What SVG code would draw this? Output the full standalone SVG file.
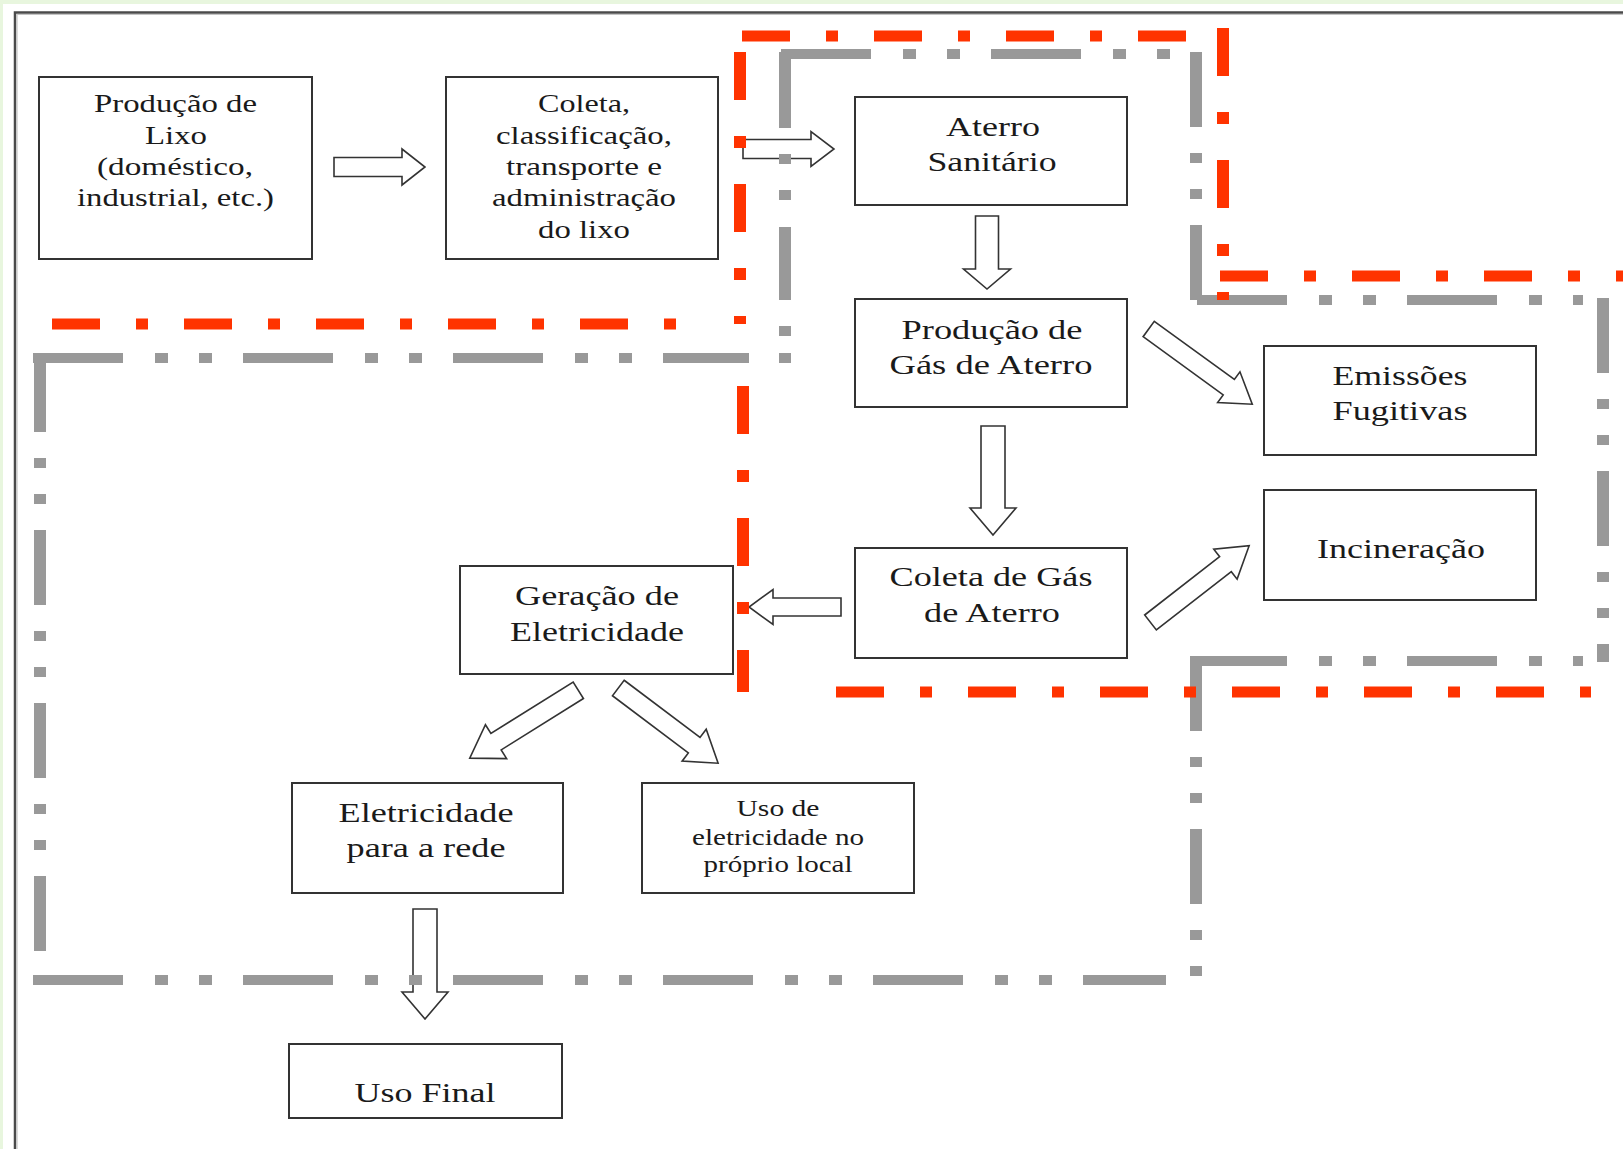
<svg xmlns="http://www.w3.org/2000/svg" width="1623" height="1149" viewBox="0 0 1623 1149">
<style>
.box{fill:#fff;stroke:#333;stroke-width:2}
.t{font-family:"Liberation Serif","Times New Roman",serif;fill:#1a1a1a;text-anchor:middle}
.t25{font-size:25px}
.t28{font-size:28px}
.t23{font-size:23px}
.arr{fill:#fff;stroke:#333;stroke-width:1.6;stroke-linejoin:miter}
.gh{fill:none;stroke:#999;stroke-width:10;stroke-dasharray:90 32 13 31 13 31}
.gv{fill:none;stroke:#999;stroke-width:12;stroke-dasharray:75 26 10 26 10 26}
.rh{fill:none;stroke:#ff3300;stroke-width:11;stroke-dasharray:48 36 12 36}
.rv{fill:none;stroke:#ff3300;stroke-width:12;stroke-dasharray:48 36 12 36}
</style>
<rect x="0" y="0" width="1623" height="1149" fill="#fff"/>
<rect x="0" y="0" width="1623" height="4" fill="#e8f6de"/>
<rect x="0" y="0" width="3" height="1149" fill="#e8f6de"/>
<path d="M15,1149 V12.5 H1623" fill="none" stroke="#4a4a4a" stroke-width="2.5"/>
<path d="M17,1149 V14.5 H1623" fill="none" stroke="#c4c4c4" stroke-width="1.2"/>

<g id="node-producao-lixo">
<rect class="box" x="39" y="77" width="273" height="182"/>
<text class="t t25" x="175.5" y="112" textLength="163" lengthAdjust="spacingAndGlyphs">Produção de</text>
<text class="t t25" x="176" y="144" textLength="62" lengthAdjust="spacingAndGlyphs">Lixo</text>
<text class="t t25" x="175" y="175" textLength="156" lengthAdjust="spacingAndGlyphs">(doméstico,</text>
<text class="t t25" x="175.5" y="206" textLength="197" lengthAdjust="spacingAndGlyphs">industrial, etc.)</text>
</g>
<g id="node-coleta-lixo">
<rect class="box" x="446" y="77" width="272" height="182"/>
<text class="t t25" x="584" y="112" textLength="92" lengthAdjust="spacingAndGlyphs">Coleta,</text>
<text class="t t25" x="584" y="144" textLength="176" lengthAdjust="spacingAndGlyphs">classificação,</text>
<text class="t t25" x="584" y="175" textLength="156" lengthAdjust="spacingAndGlyphs">transporte e</text>
<text class="t t25" x="584" y="206" textLength="184" lengthAdjust="spacingAndGlyphs">administração</text>
<text class="t t25" x="584" y="238" textLength="92" lengthAdjust="spacingAndGlyphs">do lixo</text>
</g>
<g id="node-aterro">
<rect class="box" x="855" y="97" width="272" height="108"/>
<text class="t t28" x="993" y="136" textLength="94" lengthAdjust="spacingAndGlyphs">Aterro</text>
<text class="t t28" x="992" y="171" textLength="129" lengthAdjust="spacingAndGlyphs">Sanitário</text>
</g>
<g id="node-producao-gas">
<rect class="box" x="855" y="299" width="272" height="108"/>
<text class="t t28" x="992" y="339" textLength="181" lengthAdjust="spacingAndGlyphs">Produção de</text>
<text class="t t28" x="991" y="374" textLength="203" lengthAdjust="spacingAndGlyphs">Gás de Aterro</text>
</g>
<g id="node-emissoes">
<rect class="box" x="1264" y="346" width="272" height="109"/>
<text class="t t28" x="1400" y="385" textLength="135" lengthAdjust="spacingAndGlyphs">Emissões</text>
<text class="t t28" x="1400" y="420" textLength="135" lengthAdjust="spacingAndGlyphs">Fugitivas</text>
</g>
<g id="node-incineracao">
<rect class="box" x="1264" y="490" width="272" height="110"/>
<text class="t t28" x="1401" y="558" textLength="168" lengthAdjust="spacingAndGlyphs">Incineração</text>
</g>
<g id="node-coleta-gas">
<rect class="box" x="855" y="548" width="272" height="110"/>
<text class="t t28" x="991" y="586" textLength="203" lengthAdjust="spacingAndGlyphs">Coleta de Gás</text>
<text class="t t28" x="992" y="622" textLength="136" lengthAdjust="spacingAndGlyphs">de Aterro</text>
</g>
<g id="node-geracao">
<rect class="box" x="460" y="566" width="273" height="108"/>
<text class="t t28" x="597" y="605" textLength="164" lengthAdjust="spacingAndGlyphs">Geração de</text>
<text class="t t28" x="597" y="641" textLength="174" lengthAdjust="spacingAndGlyphs">Eletricidade</text>
</g>
<g id="node-eletricidade-rede">
<rect class="box" x="292" y="783" width="271" height="110"/>
<text class="t t28" x="426" y="822" textLength="175" lengthAdjust="spacingAndGlyphs">Eletricidade</text>
<text class="t t28" x="426" y="857" textLength="159" lengthAdjust="spacingAndGlyphs">para a rede</text>
</g>
<g id="node-uso-local">
<rect class="box" x="642" y="783" width="272" height="110"/>
<text class="t t23" x="778" y="816" textLength="83" lengthAdjust="spacingAndGlyphs">Uso de</text>
<text class="t t23" x="778" y="845" textLength="172" lengthAdjust="spacingAndGlyphs">eletricidade no</text>
<text class="t t23" x="778" y="872" textLength="149" lengthAdjust="spacingAndGlyphs">próprio local</text>
</g>
<g id="node-uso-final">
<rect class="box" x="289" y="1044" width="273" height="74"/>
<text class="t t28" x="425" y="1102" textLength="141" lengthAdjust="spacingAndGlyphs">Uso Final</text>
</g>

<g id="connectors">
<polygon class="arr" transform="translate(334,167)" points="0,-9.5 68,-9.5 68,-18 91,0 68,18 68,9.5 0,9.5"/>
<polygon class="arr" transform="translate(743,149)" points="0,-9.5 68,-9.5 68,-17.5 91,0 68,17.5 68,9.5 0,9.5"/>
<polygon class="arr" transform="translate(987,216) rotate(90)" points="0,-11.5 53,-11.5 53,-23.5 73,0 53,23.5 53,11.5 0,11.5"/>
<polygon class="arr" transform="translate(993,426) rotate(90)" points="0,-12 82,-12 82,-23 109,0 82,23 82,12 0,12"/>
<polygon class="arr" transform="translate(1148.7,329) rotate(36)" points="0,-9.5 99,-9.5 99,-19 128,0 99,19 99,9.5 0,9.5"/>
<polygon class="arr" transform="translate(1150.5,622.5) rotate(-37.9)" points="0,-9.5 95,-9.5 95,-19 125,0 95,19 95,9.5 0,9.5"/>
<polygon class="arr" transform="translate(841,607) rotate(180)" points="0,-9 68,-9 68,-17.5 92,0 68,17.5 68,9 0,9"/>
<polygon class="arr" transform="translate(578.3,690.3) rotate(148)" points="0,-9.7 97,-9.7 97,-20 128,0 97,20 97,9.7 0,9.7"/>
<polygon class="arr" transform="translate(618.3,688) rotate(37)" points="0,-9.7 95,-9.7 95,-20 125,0 95,20 95,9.7 0,9.7"/>
<polygon class="arr" transform="translate(425,909) rotate(90)" points="0,-12 83,-12 83,-23 110,0 83,23 83,12 0,12"/>
</g>

<g id="boundary-gray">
<path class="gh" d="M781,54 H1170"/>
<path class="gh" d="M1197,300 H1583"/>
<path class="gh" d="M1197,661 H1583"/>
<path class="gh" d="M33,980 H1166"/>
<path class="gh" d="M33,358 H749"/>
<path class="gv" d="M785,52 V363" style="stroke-dasharray:76 26 10 26 10 27 73 26 10 17 10"/>
<path class="gv" d="M1196,52 V300"/>
<path class="gv" d="M1603,298 V662"/>
<path class="gv" d="M1196,656 V980"/>
<path class="gv" d="M40,357 V980"/>
</g>

<g id="boundary-red">
<path class="rh" d="M742,36 H1187"/>
<path class="rv" d="M1223,28 V300"/>
<path class="rh" d="M1220,276 H1623"/>
<path class="rv" d="M740,52 V324"/>
<path class="rh" d="M52,324 H676"/>
<path class="rv" d="M743,386 V692"/>
<path class="rh" d="M836,692 H1591"/>
</g>
</svg>
